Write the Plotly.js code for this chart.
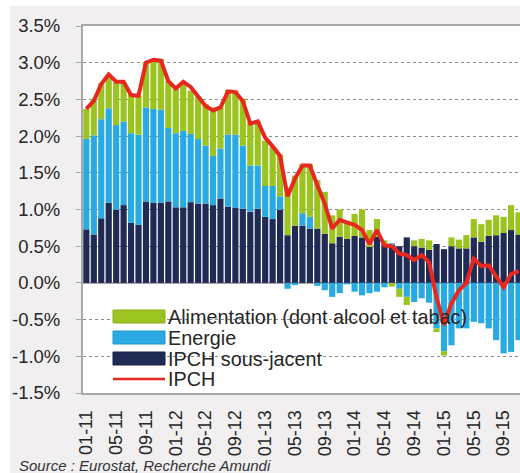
<!DOCTYPE html>
<html><head><meta charset="utf-8">
<script src="https://cdn.plot.ly/plotly-3.0.1.min.js"></script>
<style>
html,body{margin:0;padding:0;background:#fff;width:520px;height:473px;overflow:hidden;}
#chart{position:absolute;left:10px;top:6px;width:510px;height:467px;}
</style></head><body><div id="chart"></div>
<script>
const months = ["01-11","02-11","03-11","04-11","05-11","06-11","07-11","08-11","09-11","10-11","11-11","12-11",
"01-12","02-12","03-12","04-12","05-12","06-12","07-12","08-12","09-12","10-12","11-12","12-12",
"01-13","02-13","03-13","04-13","05-13","06-13","07-13","08-13","09-13","10-13","11-13","12-13",
"01-14","02-14","03-14","04-14","05-14","06-14","07-14","08-14","09-14","10-14","11-14","12-14",
"01-15","02-15","03-15","04-15","05-15","06-15","07-15","08-15","09-15","10-15","11-15"];
const tickLabels = ["01-11","05-11","09-11","01-12","05-12","09-12","01-13","05-13","09-13","01-14","05-14","09-14","01-15","05-15","09-15"];
const yTickVals = [-1.5,-1,-0.5,0,0.5,1,1.5,2,2.5,3,3.5];
const yTickText = ["-1.5%","-1.0%","-0.5%","0.0%","0.5%","1.0%","1.5%","2.0%","2.5%","3.0%","3.5%"];
const core = [0.73,0.66,0.88,1.09,1.00,1.06,0.82,0.79,1.11,1.09,1.09,1.11,
1.03,1.03,1.10,1.08,1.08,1.06,1.15,1.04,1.02,1.01,0.97,1.01,
0.90,0.87,1.00,0.65,0.78,0.78,0.74,0.74,0.67,0.54,0.63,0.60,
0.64,0.62,0.49,0.63,0.52,0.52,0.50,0.62,0.50,0.48,0.45,0.53,
0.46,0.50,0.47,0.47,0.62,0.56,0.64,0.65,0.68,0.72,0.66];
const energy = [1.23,1.35,1.35,1.29,1.15,1.14,1.22,1.23,1.28,1.28,1.27,1.00,
1.01,1.04,0.93,0.88,0.79,0.67,0.68,0.98,1.00,0.86,0.63,0.59,
0.42,0.45,0.18,-0.08,-0.03,0.17,0.16,-0.04,-0.10,-0.19,-0.14,-0.02,
-0.12,-0.17,-0.14,-0.12,-0.06,0.02,-0.08,-0.19,-0.26,-0.21,-0.27,-0.62,
-0.93,-0.85,-0.62,-0.62,-0.53,-0.55,-0.62,-0.78,-0.96,-0.94,-0.78];
const food = [0.41,0.50,0.49,0.46,0.58,0.53,0.53,0.53,0.62,0.68,0.69,0.64,
0.62,0.66,0.59,0.58,0.57,0.66,0.58,0.61,0.60,0.64,0.59,0.61,
0.62,0.53,0.57,0.65,0.68,0.67,0.72,0.66,0.57,0.38,0.37,0.25,
0.30,0.38,0.23,0.24,0.06,-0.05,-0.11,-0.11,0.08,0.12,0.13,-0.05,
-0.06,0.12,0.12,0.18,0.25,0.24,0.22,0.27,0.22,0.34,0.30];
const hicp = [2.37,2.48,2.71,2.84,2.74,2.74,2.56,2.55,3.00,3.04,3.03,2.75,
2.65,2.74,2.67,2.55,2.41,2.35,2.39,2.61,2.60,2.48,2.17,2.20,
1.98,1.86,1.73,1.18,1.42,1.60,1.60,1.33,1.08,0.74,0.86,0.82,
0.79,0.72,0.53,0.72,0.51,0.50,0.40,0.38,0.31,0.38,0.28,-0.20,
-0.57,-0.28,-0.10,0.00,0.33,0.23,0.24,0.09,-0.06,0.12,0.16];
const legendNames = ["Alimentation (dont alcool et tabac)","Energie","IPCH sous-jacent","IPCH"];
const colors = {food:"#9cc421", energy:"#2aaae2", core:"#1f2a55", hicp:"#e8271f"};

const FONT = "Liberation Sans, Arial, sans-serif";
// page pixel -> paper coords (plot area: x 83..520, y 26..393)
const PX = x => (x - 83) / 437;
const PY = y => (393 - y) / 367;

const traces = [
  {type:"bar", x:months, y:core, name:legendNames[2], marker:{color:colors.core}},
  {type:"bar", x:months, y:energy, name:legendNames[1], marker:{color:colors.energy}},
  {type:"bar", x:months, y:food, name:legendNames[0], marker:{color:colors.food}},
  {type:"scatter", mode:"lines", x:months, y:hicp, name:legendNames[3], line:{color:colors.hicp, width:4}}
];

const shapes = [];
const annotations = [];
const sw = [[310,323,colors.food,"#8aae1a"],[331,344,colors.energy,"#2196cc"],[352,365,colors.core,"#162044"]];
sw.forEach((s,i)=>{
  shapes.push({type:"rect", xref:"paper", yref:"paper", x0:PX(113), x1:PX(165), y0:PY(s[1]), y1:PY(s[0]), fillcolor:s[2], line:{color:s[3], width:1}});
  annotations.push({xref:"paper", yref:"paper", x:PX(166), y:PY((s[0]+s[1])/2+0.5), xanchor:"left", yanchor:"middle", text:legendNames[i], showarrow:false, font:{family:FONT, size:19.8, color:"#262626"}});
});
shapes.push({type:"line", xref:"paper", yref:"paper", x0:PX(113), x1:PX(165), y0:PY(379), y1:PY(379), line:{color:colors.hicp, width:2.5}});
annotations.push({xref:"paper", yref:"paper", x:PX(166), y:PY(379), xanchor:"left", yanchor:"middle", text:legendNames[3], showarrow:false, font:{family:FONT, size:19.8, color:"#262626"}});
annotations.push({xref:"paper", yref:"paper", x:PX(17), y:PY(455), xanchor:"left", yanchor:"top", text:"<i>Source : Eurostat, Recherche Amundi</i>", showarrow:false, font:{family:FONT, size:15, color:"#333"}});

const boundaryTicks = [];
for (let k = 3.5; k < 59; k += 4) boundaryTicks.push(k);

const layout = {
  width:510, height:467,
  margin:{l:73, r:0, t:20, b:80},
  paper_bgcolor:"#f1efef", plot_bgcolor:"#ffffff",
  barmode:"relative", bargap:0.17,
  showlegend:false, hovermode:false,
  font:{family:FONT, color:"#262626"},
  xaxis:{type:"category", range:[-0.45,58.2], tickvals:tickLabels, ticktext:tickLabels, tickangle:-90,
         ticks:"", showgrid:false, zeroline:false, showline:true, linecolor:"#a8a8a8", linewidth:2, mirror:true,
         tickfont:{family:FONT, size:18, color:"#262626"}, ticklabelstandoff:8},
  xaxis2:{overlaying:"x", anchor:"free", position:0.3, range:[-0.45,58.2], tickvals:boundaryTicks,
          ticks:"outside", ticklen:5, tickwidth:1.5, tickcolor:"#a8a8a8", showticklabels:false, showline:false, showgrid:false, zeroline:false},
  yaxis:{range:[-1.5,3.5], tickvals:yTickVals, ticktext:yTickText, ticks:"outside", ticklen:5, tickcolor:"#a8a8a8",
         showline:true, linecolor:"#a8a8a8", linewidth:2, showgrid:true, gridcolor:"#8a8a8a", griddash:"dot", gridwidth:1,
         zeroline:true, zerolinecolor:"#a8a8a8", zerolinewidth:2,
         tickfont:{family:FONT, size:18.5, color:"#262626"}, ticklabelstandoff:12},
  shapes:shapes, annotations:annotations
};
Plotly.newPlot("chart", traces, layout, {staticPlot:true, displayModeBar:false});
</script></body></html>
